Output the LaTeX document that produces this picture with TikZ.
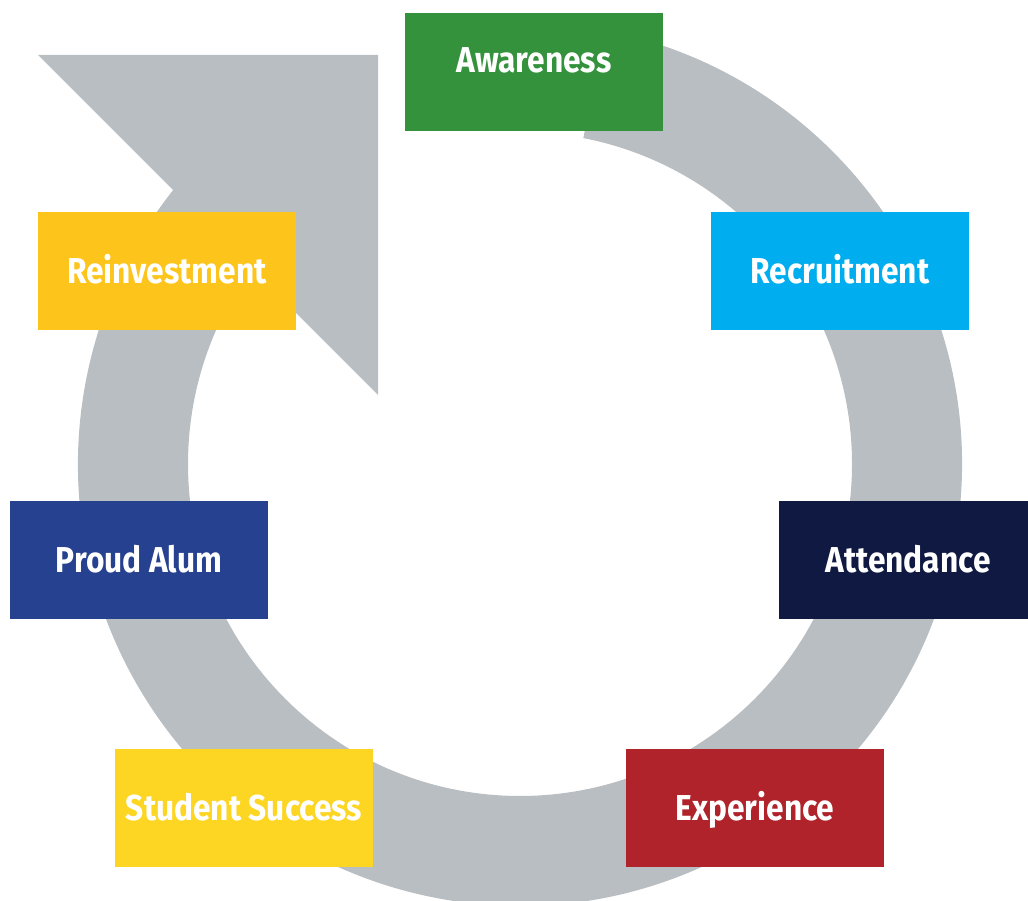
\documentclass[tikz,border=0pt]{standalone}
\usepackage{fontspec}
\newfontfamily\boxfont[FakeStretch=0.88]{Fira Sans}
\usetikzlibrary{positioning,calc}
\definecolor{ring}{HTML}{B9BEC2}
\definecolor{aware}{HTML}{34923D}
\definecolor{recruit}{HTML}{00AEEF}
\definecolor{attend}{HTML}{0F1941}
\definecolor{exper}{HTML}{B0232A}
\definecolor{success}{HTML}{FDD523}
\definecolor{alum}{HTML}{26418F}
\definecolor{reinvest}{HTML}{FDC51C}

\begin{document}
\begin{tikzpicture}[x=1pt,y=1pt,
    stage/.style={minimum width=258pt,minimum height=118pt,inner sep=0pt,
      text=white,text height=25pt,text depth=0pt,
      font=\boxfont\bfseries\fontsize{36}{40}\selectfont}]
      \clip (0,0) rectangle (1028,901);
      \useasboundingbox (0,0) rectangle (1028,901);

      % the grey cycle and its head
      \coordinate (c) at (520,437);
      \fill[ring] (c) ++(79:442) arc[start angle=79,end angle=-225,radius=442]
        -- ($(c)+(-225:332)$) arc[start angle=-225,end angle=79,radius=332] -- cycle;
      \fill[ring] (38,846) -- (378,846) -- (378,506) -- cycle;

      \path
      (534,829) node[stage,fill=aware,text depth=24pt](awareness) {Awareness}
      (840,630) node[stage,fill=recruit](recruitment) {Recruitment}
      (908,341) node[stage,fill=attend](attendance) {Attendance}
      (755,93) node[stage,fill=exper](experience) {Experience}
      (244,93) node[stage,fill=success](success) {Student Success}
      (139,341) node[stage,fill=alum](alum) {Proud Alum}
      (167,630) node[stage,fill=reinvest](reinvestment) {Reinvestment}
      ;
    \end{tikzpicture}
\end{document}
